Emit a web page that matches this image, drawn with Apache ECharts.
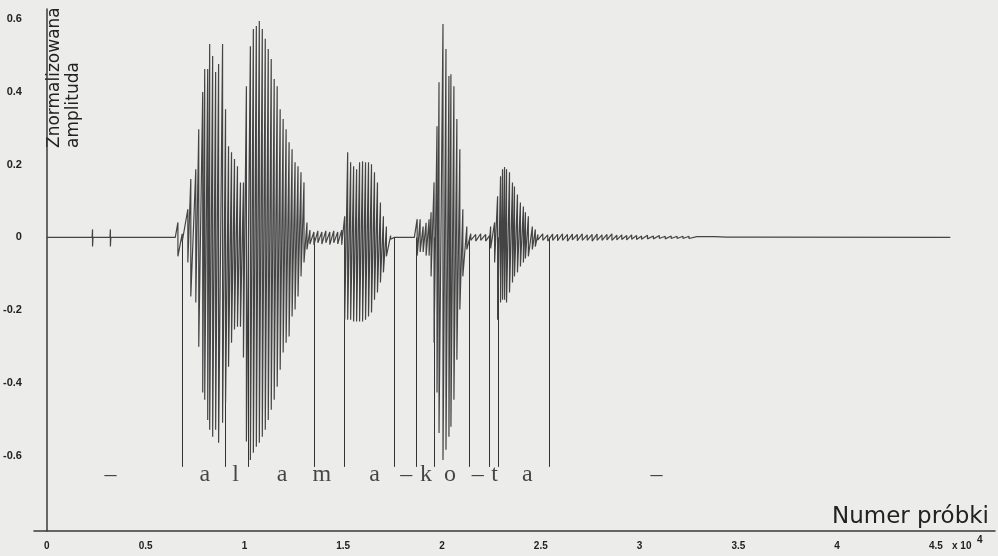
<!DOCTYPE html>
<html>
<head>
<meta charset="utf-8">
<script src="https://cdn.jsdelivr.net/npm/echarts@6/dist/echarts.min.js"></script>
<style>
  html, body { margin: 0; padding: 0; background: #ecedeb; }
  #container { width: 998px; height: 556px; }
</style>
</head>
<body>
<div id="container"></div>
<script>
// tick labels
var xLabels = ['0', '0.5', '1', '1.5', '2', '2.5', '3', '3.5', '4', '4.5'];
var yLabels = ['-0.6', '-0.4', '-0.2', '0', '0.2', '0.4', '0.6'];

// waveform peaks: [sample, upper peak, lower peak]
var leadIn = [
    [0, 0, 0], [2290, 0, 0], [2312, 0.022, -0.025], [2335, 0, 0],
    [3195, 0, 0], [3216, 0.022, -0.025], [3240, 0, 0], [6500, 0, 0],
    [6633, 0.041, -0.052], [6850, 0.01, -0.012]
];
var segAla = [
    [7136, 0.077, -0.069], [7286, 0.160, -0.162], [7538, 0.187, -0.179], [7688, 0.297, -0.300],
    [7889, 0.399, -0.426], [7990, 0.462, -0.446], [8141, 0.462, -0.501], [8241, 0.531, -0.528],
    [8392, 0.498, -0.547], [8543, 0.454, -0.528], [8693, 0.476, -0.564], [8894, 0.531, -0.509],
    [9045, 0.352, -0.454], [9196, 0.250, -0.355], [9347, 0.234, -0.289], [9497, 0.215, -0.253],
    [9648, 0.195, -0.245], [9799, 0.151, -0.245], [9950, 0.151, -0.330], [10100, 0.415, -0.560],
    [10301, 0.525, -0.611], [10452, 0.572, -0.591], [10603, 0.580, -0.575], [10754, 0.594, -0.564],
    [10904, 0.572, -0.547], [11055, 0.545, -0.528], [11206, 0.517, -0.501], [11357, 0.490, -0.473],
    [11507, 0.435, -0.446], [11658, 0.415, -0.410], [11809, 0.352, -0.363], [11960, 0.325, -0.316],
    [12110, 0.297, -0.289], [12261, 0.261, -0.272], [12412, 0.242, -0.217], [12563, 0.206, -0.198],
    [12713, 0.195, -0.162], [12864, 0.179, -0.107], [13015, 0.151, -0.069], [13166, 0.041, -0.033]
];
var segM = [
    [13316, 0.020, -0.018], [13517, 0.015, -0.020], [13718, 0.018, -0.015], [13919, 0.015, -0.018],
    [14120, 0.018, -0.015], [14321, 0.015, -0.020], [14522, 0.018, -0.015], [14723, 0.015, -0.018],
    [14924, 0.020, -0.020]
];
var segA2 = [
    [15075, 0.058, -0.226], [15226, 0.234, -0.226], [15377, 0.206, -0.226], [15527, 0.195, -0.231],
    [15678, 0.187, -0.231], [15829, 0.206, -0.231], [15980, 0.209, -0.231], [16130, 0.206, -0.226],
    [16281, 0.206, -0.217], [16432, 0.201, -0.206], [16583, 0.179, -0.171], [16733, 0.151, -0.151],
    [16884, 0.096, -0.124], [17035, 0.058, -0.096], [17186, 0.030, -0.052], [17400, 0.005, -0.005],
    [17588, 0, 0], [18600, 0, 0]
];
var segK = [
    [18743, 0.05, -0.05], [18894, 0.05, -0.04], [19045, 0.03, -0.04], [19196, 0.04, -0.05],
    [19346, 0.05, -0.05], [19447, 0.069, -0.107]
];
var segO = [
    [19598, 0.151, -0.289], [19748, 0.305, -0.426], [19849, 0.426, -0.537], [20050, 0.586, -0.611],
    [20201, 0.517, -0.583], [20351, 0.443, -0.547], [20452, 0.448, -0.520], [20603, 0.415, -0.446],
    [20753, 0.325, -0.336], [20904, 0.242, -0.198], [21055, 0.077, -0.107], [21256, 0.030, -0.033]
];
var segGap = [
    [21457, 0.010, -0.008], [21708, 0.008, -0.010], [21959, 0.010, -0.008], [22211, 0.008, -0.010],
    [22412, 0.005, -0.005], [22462, 0.030, -0.030]
];
var segA3 = [
    [22663, 0.041, -0.069], [22814, 0.113, -0.226], [22964, 0.168, -0.179], [23065, 0.187, -0.171],
    [23166, 0.193, -0.171], [23266, 0.187, -0.179], [23417, 0.179, -0.151], [23567, 0.151, -0.124],
    [23668, 0.140, -0.107], [23819, 0.118, -0.096], [23969, 0.096, -0.080], [24120, 0.085, -0.069],
    [24221, 0.069, -0.058], [24371, 0.058, -0.052], [24572, 0.030, -0.033], [24723, 0.022, -0.025]
];
var tailNoise = [
    [24850, 0.008, -0.007], [25100, 0.010, -0.008], [25350, 0.007, -0.010], [25600, 0.009, -0.008],
    [25850, 0.008, -0.009], [26100, 0.010, -0.008], [26350, 0.008, -0.010], [26600, 0.009, -0.007],
    [26850, 0.008, -0.009], [27100, 0.010, -0.008], [27350, 0.007, -0.008], [27600, 0.008, -0.010],
    [27850, 0.009, -0.008], [28100, 0.007, -0.008], [28350, 0.008, -0.007], [28600, 0.010, -0.008],
    [28850, 0.006, -0.007], [29100, 0.007, -0.006], [29350, 0.005, -0.007], [29600, 0.007, -0.005],
    [29850, 0.005, -0.006], [30100, 0.004, -0.005], [30400, 0.006, -0.004], [30700, 0.004, -0.004],
    [31000, 0.005, -0.003], [31300, 0.003, -0.004], [31600, 0.004, -0.003], [31900, 0.003, -0.003],
    [32200, 0.003, -0.003], [32500, 0.003, -0.003], [32900, 0.002, -0.002], [33300, 0.002, -0.002],
    [33800, 0.002, -0.002], [34400, 0.001, -0.001], [35000, 0.001, -0.001], [35800, 0.001, -0.001],
    [45728, 0, 0]
];

// segment boundaries (sample) and phoneme labels
var boundaries = [6834, 9045, 10201, 13517, 15075, 17588, 18693, 19598, 21356, 22412, 22864, 25427];
var boundaryBottom = -0.63;
var phonemes = ['–', 'a', 'l', 'a', 'm', 'a', '–', 'k', 'o', '–', 't', 'a', '–'];
var phonemeX = [3216, 7990, 9548, 11909, 13919, 16583, 18191, 19196, 20402, 21809, 22663, 24321, 30854];
var phonemeY = -0.652;

var wave = [];
[leadIn, segAla, segM, segA2, segK, segO, segGap, segA3, tailNoise].forEach(function (seg) {
    seg.forEach(function (p) {
        wave.push([p[0], p[1]]);
        if (p[2] !== p[1]) wave.push([p[0], p[2]]);
    });
});

var boundaryLines = boundaries.map(function (x) {
    return { coords: [[x, 0], [x, boundaryBottom]] };
});

var phonemeData = phonemes.map(function (t, i) {
    return { name: t, value: [phonemeX[i], phonemeY] };
});

var dom = document.getElementById('container');
var myChart = echarts.init(dom);
var option = {
    animation: false,
    backgroundColor: '#ecedeb',
    grid: { left: 30, right: 0, top: 9, bottom: 25 },
    xAxis: {
        type: 'value',
        min: -653,
        max: 47990,
        splitNumber: 10,
        minInterval: 5000,
        maxInterval: 5000,
        axisLine: { onZero: false, lineStyle: { color: '#3a3a3a', width: 1.5 } },
        axisTick: { show: false },
        splitLine: { show: false },
        axisLabel: {
            margin: 10,
            color: '#222',
            fontFamily: 'Liberation Sans',
            fontWeight: 'bold',
            fontSize: 10,
            formatter: function (v) {
                var s = String(Math.round(v / 1000) / 10);
                return (Math.abs(v % 5000) < 1e-6 && xLabels.indexOf(s) >= 0) ? s : '';
            }
        },
        name: 'Numer próbki',
        nameLocation: 'end',
        nameGap: -6,
        nameTextStyle: {
            align: 'right',
            verticalAlign: 'bottom',
            color: '#222',
            fontFamily: 'DejaVu Sans',
            fontSize: 23,
            padding: [0, 0, 2, 0]
        }
    },
    yAxis: {
        type: 'value',
        min: -0.806,
        max: 0.627,
        splitNumber: 7,
        minInterval: 0.2,
        maxInterval: 0.2,
        axisLine: { onZero: true, lineStyle: { color: '#3a3a3a', width: 1.5 } },
        axisTick: { show: false },
        splitLine: { show: false },
        axisLabel: {
            margin: 12,
            color: '#222',
            fontFamily: 'Liberation Sans',
            fontWeight: 'bold',
            fontSize: 11,
            formatter: function (v) {
                var r = Math.round(v * 10) / 10;
                var s = String(r);
                return (Math.abs(v - r) < 1e-6 && yLabels.indexOf(s) >= 0) ? s : '';
            }
        }
    },
    graphic: [
        {
            type: 'text',
            x: 45,
            y: 148,
            rotation: Math.PI / 2,
            style: {
                text: 'Znormalizowana\namplituda',
                fill: '#222',
                fontFamily: 'DejaVu Sans',
                fontSize: 17,
                lineHeight: 19,
                align: 'left',
                verticalAlign: 'top'
            }
        },
        {
            type: 'text',
            x: 952,
            y: 546,
            style: { text: 'x 10', fill: '#222', fontFamily: 'Liberation Sans', fontWeight: 'bold', fontSize: 10, verticalAlign: 'middle' }
        },
        {
            type: 'text',
            x: 977,
            y: 540,
            style: { text: '4', fill: '#222', fontFamily: 'Liberation Sans', fontWeight: 'bold', fontSize: 10, verticalAlign: 'middle' }
        }
    ],
    series: [
        {
            name: 'wave',
            type: 'line',
            data: wave,
            showSymbol: false,
            symbol: 'none',
            sampling: null,
            lineStyle: { color: '#444', width: 1.2 },
            z: 3
        },
        {
            name: 'boundaries',
            type: 'lines',
            coordinateSystem: 'cartesian2d',
            data: boundaryLines,
            lineStyle: { color: '#333', width: 1, opacity: 1 },
            z: 2
        },
        {
            name: 'phonemes',
            type: 'scatter',
            data: phonemeData,
            symbolSize: 1,
            itemStyle: { color: 'rgba(0,0,0,0)' },
            label: {
                show: true,
                position: 'inside',
                formatter: '{b}',
                color: '#1a1a1a',
                fontFamily: 'Liberation Serif',
                fontSize: 24
            },
            z: 4
        }
    ]
};
if (option && typeof option === "object") {
    myChart.setOption(option, true);
}
</script>
</body>
</html>
